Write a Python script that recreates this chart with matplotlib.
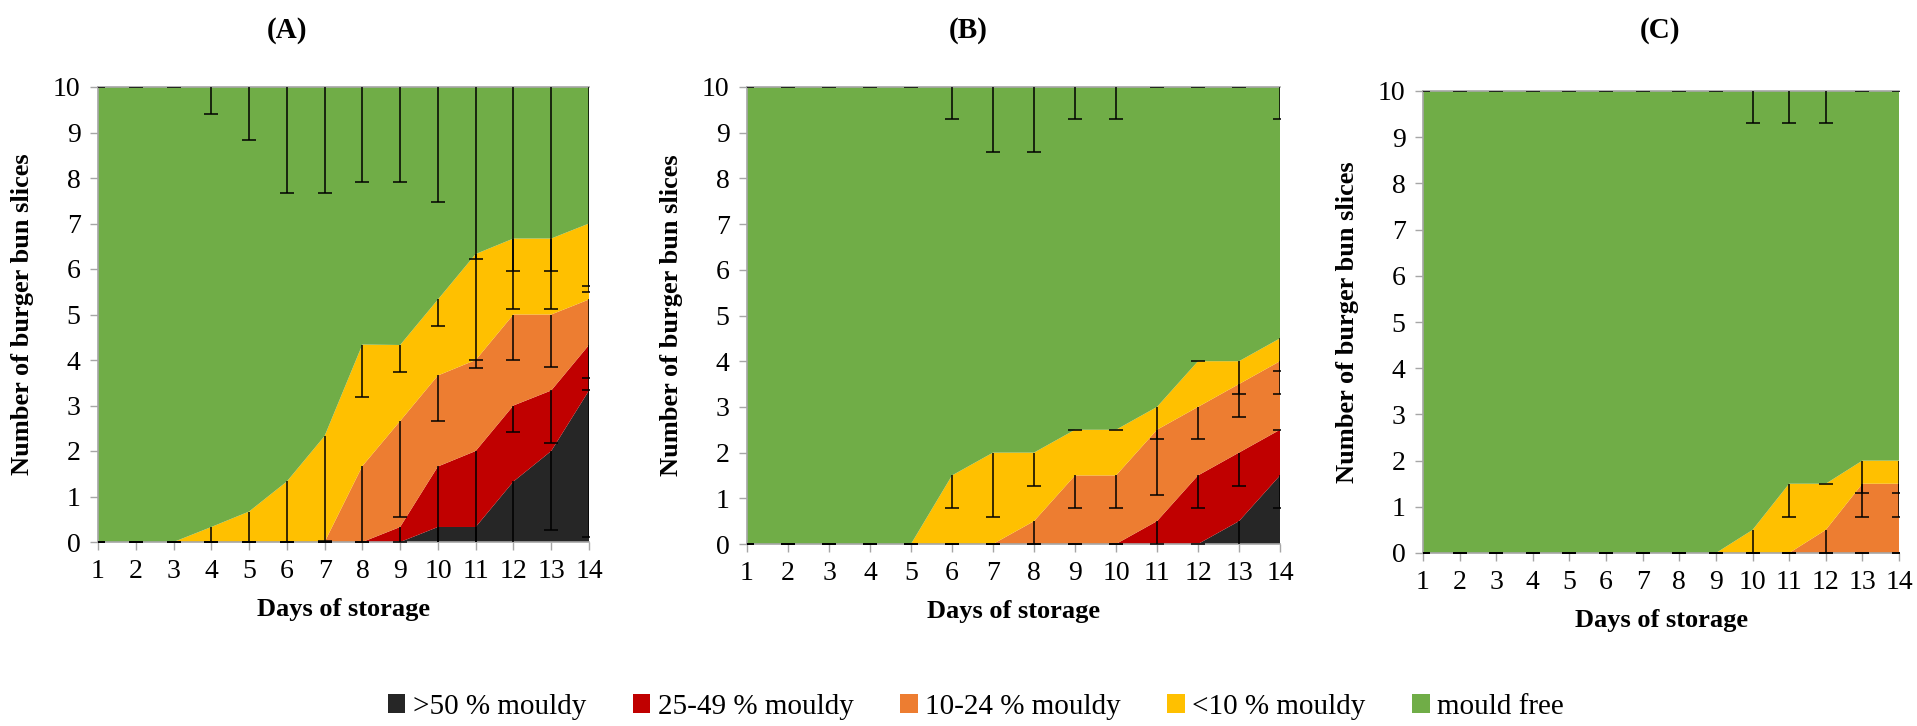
import numpy as np
import matplotlib
matplotlib.use("Agg")
import matplotlib.pyplot as plt
from matplotlib.patches import Patch

plt.rcParams['font.family'] = ['Liberation Serif', 'DejaVu Serif']

# Daten
days = np.arange(1, 15)
labels = ['>50 % mouldy', '25-49 % mouldy', '10-24 % mouldy', '<10 % mouldy', 'mould free']
colors = ['#262626', '#C00000', '#ED7D31', '#FFC000', '#70AD47']

# Panel A
black_a = [0, 0, 0, 0, 0, 0, 0, 0, 0, 0.33, 0.33, 1.33, 2.0, 3.33]
red_a = [0, 0, 0, 0, 0, 0, 0, 0, 0.33, 1.33, 1.67, 1.67, 1.33, 1.0]
orange_a = [0, 0, 0, 0, 0, 0, 0, 1.67, 2.33, 2.0, 2.0, 2.0, 1.67, 1.0]
yellow_a = [0, 0, 0, 0.33, 0.67, 1.33, 2.33, 2.67, 1.67, 1.67, 2.33, 1.67, 1.67, 1.67]
green_a = [10, 10, 10, 9.67, 9.33, 8.67, 7.67, 5.67, 5.67, 4.67, 3.67, 3.33, 3.33, 3.0]
err_black_a = [0, 0, 0, 0, 0, 0, 0, 0, 0, 0.58, 0.58, 1.53, 1.74, 3.21]
err_red_a = [0, 0, 0, 0, 0, 0, 0, 0, 0.58, 2.0, 2.3, 0.58, 1.16, 1.0]
err_orange_a = [0, 0, 0, 0, 0, 0, 0, 2.0, 2.1, 1.0, 0.18, 1.0, 1.16, 1.73]
err_yellow_a = [0, 0, 0, 0.58, 1.15, 1.53, 2.31, 1.16, 0.59, 0.59, 2.33, 1.54, 1.54, 1.51]
err_green_a = [0, 0, 0, 0.59, 1.17, 2.32, 2.32, 2.09, 2.09, 2.53, 3.79, 4.04, 4.04, 4.37]

# Panel B
black_b = [0, 0, 0, 0, 0, 0, 0, 0, 0, 0, 0, 0, 0.5, 1.5]
red_b = [0, 0, 0, 0, 0, 0, 0, 0, 0, 0, 0.5, 1.5, 1.5, 1.0]
orange_b = [0, 0, 0, 0, 0, 0, 0, 0.5, 1.5, 1.5, 2.0, 1.5, 1.5, 1.5]
yellow_b = [0, 0, 0, 0, 0, 1.5, 2.0, 1.5, 1.0, 1.0, 0.5, 1.0, 0.5, 0.5]
green_b = [10, 10, 10, 10, 10, 8.5, 8.0, 8.0, 7.5, 7.5, 7.0, 6.0, 6.0, 5.5]
err_black_b = [0, 0, 0, 0, 0, 0, 0, 0, 0, 0, 0, 0, 0.71, 0.72]
err_red_b = [0, 0, 0, 0, 0, 0, 0, 0, 0, 0, 0.71, 0.72, 0.72, 0]
err_orange_b = [0, 0, 0, 0, 0, 0, 0, 0.71, 0.72, 0.72, 1.43, 0.71, 0.72, 0.71]
err_yellow_b = [0, 0, 0, 0, 0, 0.72, 1.42, 0.72, 0, 0, 0.71, 0, 0.71, 0.71]
err_green_b = [0, 0, 0, 0, 0, 0.71, 1.42, 1.42, 0.71, 0.71, 0, 0, 0, 0.71]

# Panel C
black_c = [0, 0, 0, 0, 0, 0, 0, 0, 0, 0, 0, 0, 0, 0]
red_c = [0, 0, 0, 0, 0, 0, 0, 0, 0, 0, 0, 0, 0, 0]
orange_c = [0, 0, 0, 0, 0, 0, 0, 0, 0, 0, 0, 0.5, 1.5, 1.5]
yellow_c = [0, 0, 0, 0, 0, 0, 0, 0, 0, 0.5, 1.5, 1.0, 0.5, 0.5]
green_c = [10, 10, 10, 10, 10, 10, 10, 10, 10, 9.5, 8.5, 8.5, 8.0, 8.0]
err_black_c = [0, 0, 0, 0, 0, 0, 0, 0, 0, 0, 0, 0, 0, 0]
err_red_c = [0, 0, 0, 0, 0, 0, 0, 0, 0, 0, 0, 0, 0, 0]
err_orange_c = [0, 0, 0, 0, 0, 0, 0, 0, 0, 0, 0, 0.71, 0.71, 0.71]
err_yellow_c = [0, 0, 0, 0, 0, 0, 0, 0, 0, 0.71, 0.71, 0, 0.7, 0.7]
err_green_c = [0, 0, 0, 0, 0, 0, 0, 0, 0, 0.7, 0.7, 0.7, 0, 0]

panels = [
    ('(A)', [black_a, red_a, orange_a, yellow_a, green_a],
     [err_black_a, err_red_a, err_orange_a, err_yellow_a, err_green_a]),
    ('(B)', [black_b, red_b, orange_b, yellow_b, green_b],
     [err_black_b, err_red_b, err_orange_b, err_yellow_b, err_green_b]),
    ('(C)', [black_c, red_c, orange_c, yellow_c, green_c],
     [err_black_c, err_red_c, err_orange_c, err_yellow_c, err_green_c]),
]

W, H = 1917, 726
# Achsen in Pixel: links, rechts, oben, unten
boxes = [(98, 589, 87, 542), (747, 1280, 87, 544), (1423, 1899, 91, 553)]
title_x = [287, 968, 1660]

fig = plt.figure(figsize=(W / 100, H / 100), dpi=100)
grey = '#A6A6A6'

for (title, series, errs), (l, r, t, b), tx in zip(panels, boxes, title_x):
    ax = fig.add_axes([l / W, 1 - b / H, (r - l) / W, (b - t) / H])
    ax.stackplot(days, *series, colors=colors, linewidth=0)
    # Fehlerbalken (nur nach unten, wie in Excel)
    tops = np.cumsum(np.array(series, dtype=float), axis=0)
    for top, e in zip(tops, errs):
        e = np.array(e, dtype=float)
        ax.vlines(days, top - e, top, color='black', lw=1.1, zorder=5)
        ax.plot(days, top - e, linestyle='none', marker='_', markersize=10,
                markeredgewidth=1.1, color='black', zorder=5)
    ax.set_xlim(1, 14)
    ax.set_ylim(0, 10)
    ax.set_xticks(days)
    ax.set_yticks(range(0, 11))
    ax.tick_params(axis='both', direction='out', length=5.5, width=1, color=grey,
                   labelsize=20, labelcolor='black', pad=7)
    for s in ['left', 'bottom', 'top']:
        ax.spines[s].set_color(grey)
        ax.spines[s].set_linewidth(1.2)
    ax.spines['right'].set_visible(False)
    ax.set_ylabel('Number of burger bun slices', fontsize=19, fontweight='bold')
    ax.yaxis.set_label_coords(-64 / (r - l), 0.5)
    ax.set_xlabel('Days of storage', fontsize=19, fontweight='bold')
    ax.xaxis.set_label_coords(0.5, -56 / (b - t))
    fig.text(tx / W, 1 - 30 / H, title, fontsize=21, fontweight='bold',
             ha='center', va='center')

handles = [Patch(facecolor=c, edgecolor='none') for c in colors]
fig.legend(handles, labels, loc='center', bbox_to_anchor=(0.509, 1 - 707 / H), ncol=5,
           frameon=False, fontsize=21, handlelength=0.6, handleheight=0.6,
           handletextpad=0.25, columnspacing=1.6)

fig.savefig('out.png', dpi=100)
